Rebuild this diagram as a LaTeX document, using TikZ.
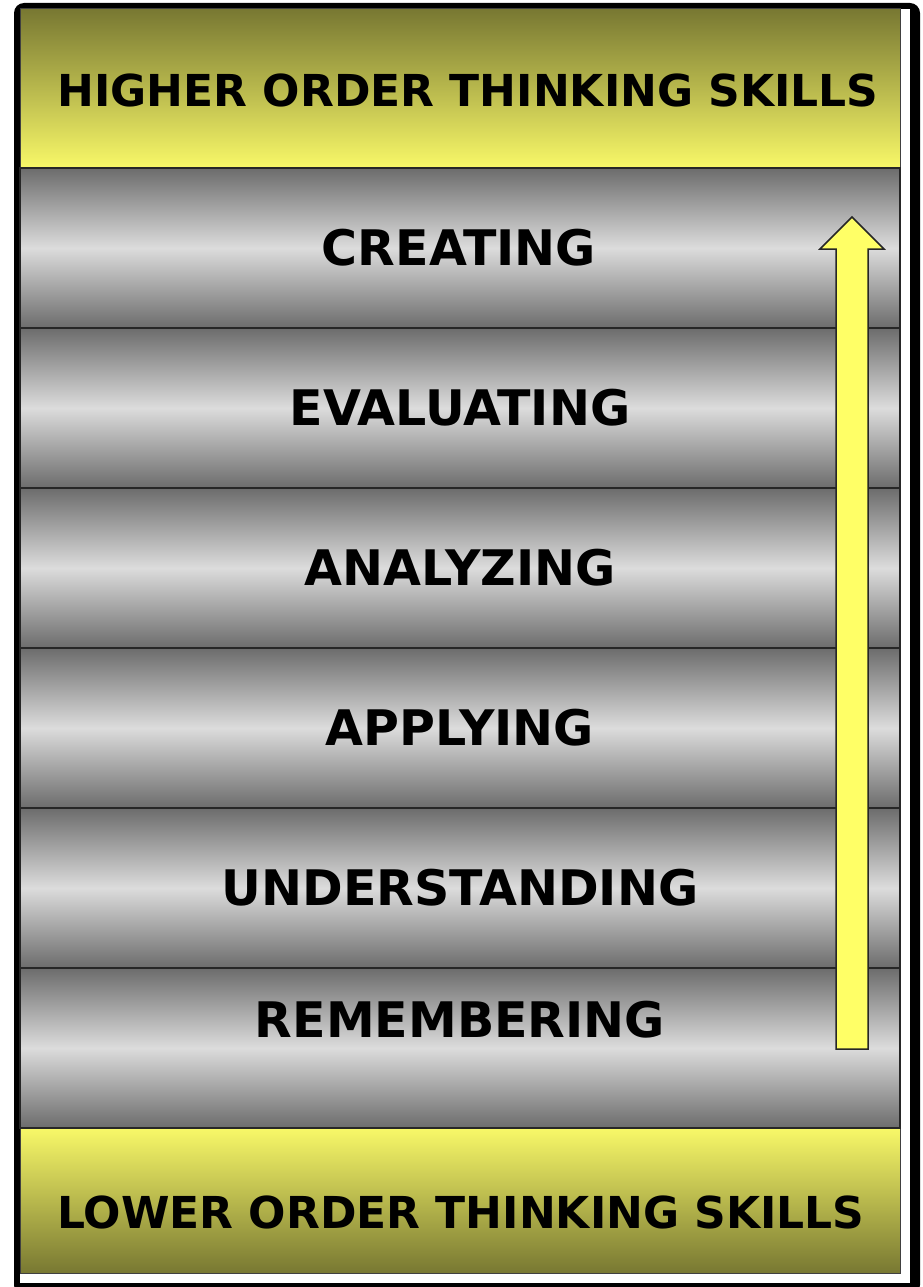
\documentclass[tikz,border=0pt]{standalone}
\usepackage{fontspec}
\setmainfont{DejaVu Sans}
\begin{document}
\begin{tikzpicture}[x=1pt,y=-1pt,
  header/.style={font=\bfseries\fontsize{44}{48}\selectfont, anchor=base, inner sep=0pt},
  level/.style={font=\bfseries\fontsize{49}{54}\selectfont, anchor=base, inner sep=0pt},
  band/.style={draw=black!85, line width=1.3pt, top color=bandDark, bottom color=bandDark, middle color=bandLight},
  hotsband/.style={draw=black!75, line width=1pt, top color=olive, bottom color=paleYellow},
  lotsband/.style={draw=black!75, line width=1pt, top color=paleYellow, bottom color=olive},
  riseArrow/.style={draw=black!85, line width=1.5pt, fill=arrowYellow, line join=miter}]
\definecolor{bandDark}{HTML}{6C6C6C}
\definecolor{bandLight}{HTML}{DCDCDC}
\definecolor{olive}{HTML}{787832}
\definecolor{paleYellow}{HTML}{F8F868}
\definecolor{arrowYellow}{HTML}{FFFF66}
\useasboundingbox (0,0) rectangle (923,1287);
% frame with drop shadow
\fill[black, rounded corners=10pt] (14,3) rectangle (920,1295);
\fill[white] (20,9) rectangle (910,1283);
% header and footer bands
\path[hotsband] (20,9) rectangle (900,168);
\path[lotsband] (20,1128) rectangle (900,1273);
% level bands
\foreach \i in {0,...,5}{
  \path[band] (20,168+160*\i) rectangle (900,328+160*\i);
}
% labels
\node[header] (hots) at (468,107) {HIGHER ORDER THINKING SKILLS};
\node[header] (lots) at (461,1228) {LOWER ORDER THINKING SKILLS};
\node[level] (creating) at (459,265) {CREATING};
\node[level] (evaluating) at (460,425) {EVALUATING};
\node[level] (analyzing) at (460,585) {ANALYZING};
\node[level] (applying) at (460,745) {APPLYING};
\node[level] (understanding) at (460,905) {UNDERSTANDING};
\node[level] (remembering) at (460,1037) {REMEMBERING};
% upward arrow
\path[riseArrow] (836,1049) -- (836,249) -- (820,249) -- (852,217) -- (884,249) -- (868,249) -- (868,1049) -- cycle;
\end{tikzpicture}
\end{document}
